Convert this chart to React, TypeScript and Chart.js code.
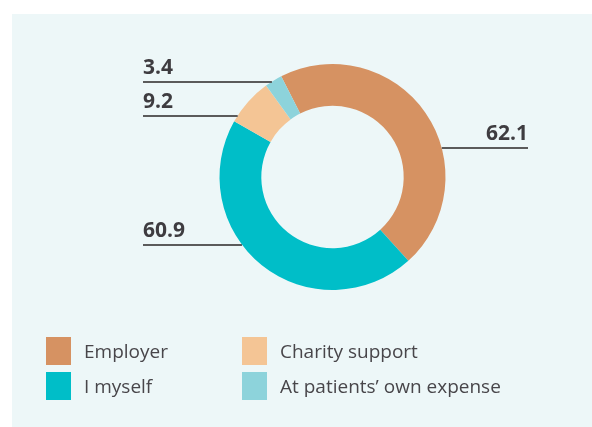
import React, { useEffect, useRef } from "react";
import { Chart, registerables } from "chart.js";

Chart.register(...registerables);

const categories = ["Employer", "I myself", "Charity support", "At patients’ own expense"];
const values = [62.1, 60.9, 9.2, 3.4];
const valueLabels = ["62.1", "60.9", "9.2", "3.4"];
const colors = ["#d69262", "#00bec8", "#f4c595", "#8dd3db"];
// where along each slice the callout leader touches (fraction of slice span)
const calloutFractions = [0.62, 0.59, 0.14, 0.4];
const calloutSides = ["right", "left", "left", "left"];

const LEFT_X = 143;
const RIGHT_X = 528;
const FONT = '"Open Sans", "DejaVu Sans", sans-serif';

const calloutPlugin = {
  id: "callouts",
  afterDraw(chart: any) {
    const ctx = chart.ctx;
    const meta = chart.getDatasetMeta(0);
    ctx.save();
    meta.data.forEach((arc: any, i: number) => {
      const { x, y, startAngle, endAngle, outerRadius } = arc.getProps(
        ["x", "y", "startAngle", "endAngle", "outerRadius"],
        true
      );
      const a = startAngle + (endAngle - startAngle) * calloutFractions[i];
      const ax = x + outerRadius * Math.cos(a);
      const ay = Math.round(y + outerRadius * Math.sin(a));
      const side = calloutSides[i];
      const lx = side === "left" ? LEFT_X : RIGHT_X;
      ctx.strokeStyle = "#5b5b5b";
      ctx.lineWidth = 2;
      ctx.beginPath();
      ctx.moveTo(lx, ay);
      ctx.lineTo(ax, ay);
      ctx.stroke();
      ctx.fillStyle = "#3e3c40";
      ctx.font = `bold 21px ${FONT}`;
      ctx.textBaseline = "alphabetic";
      ctx.textAlign = side === "left" ? "left" : "right";
      ctx.fillText(valueLabels[i], lx, ay - 8);
    });
    ctx.restore();
  },
};

export default function App() {
  const ref = useRef<HTMLCanvasElement | null>(null);
  useEffect(() => {
    if (!ref.current) return;
    const chart = new Chart(ref.current, {
      type: "doughnut",
      data: {
        labels: categories,
        datasets: [
          {
            data: values,
            backgroundColor: colors,
            borderWidth: 0,
            hoverBorderWidth: 0,
            hoverOffset: 0,
            offset: 0,
          },
        ],
      },
      options: {
        responsive: false,
        animation: false,
        devicePixelRatio: 1,
        events: [],
        cutout: "63%",
        rotation: -27,
        layout: { padding: { left: 219.5, right: 146.5, top: 64, bottom: 137 } },
        plugins: { legend: { display: false }, tooltip: { enabled: false } },
      },
      plugins: [calloutPlugin],
    });
    return () => chart.destroy();
  }, []);

  const legendPos = [
    { left: 46, top: 337 },
    { left: 46, top: 372 },
    { left: 242, top: 337 },
    { left: 242, top: 372 },
  ];

  return (
    <div style={{ position: "fixed", left: 0, top: 0, width: 592, height: 427, background: "#fff", overflow: "hidden" }}>
      <div style={{ position: "absolute", left: 12, top: 14, width: 580, height: 413, background: "#edf7f8" }} />
      <canvas ref={ref} width={592} height={427} style={{ position: "absolute", left: 0, top: 0, width: 592, height: 427 }} />
      {categories.map((c, i) => (
        <div
          key={c}
          style={{
            position: "absolute",
            left: legendPos[i].left,
            top: legendPos[i].top,
            height: 28,
            display: "flex",
            alignItems: "center",
            fontFamily: FONT,
            fontSize: 19,
            color: "#48464a",
            whiteSpace: "nowrap",
          }}
        >
          <span style={{ display: "inline-block", width: 25, height: 28, background: colors[i], marginRight: 13 }} />
          <span>{c}</span>
        </div>
      ))}
    </div>
  );
}
